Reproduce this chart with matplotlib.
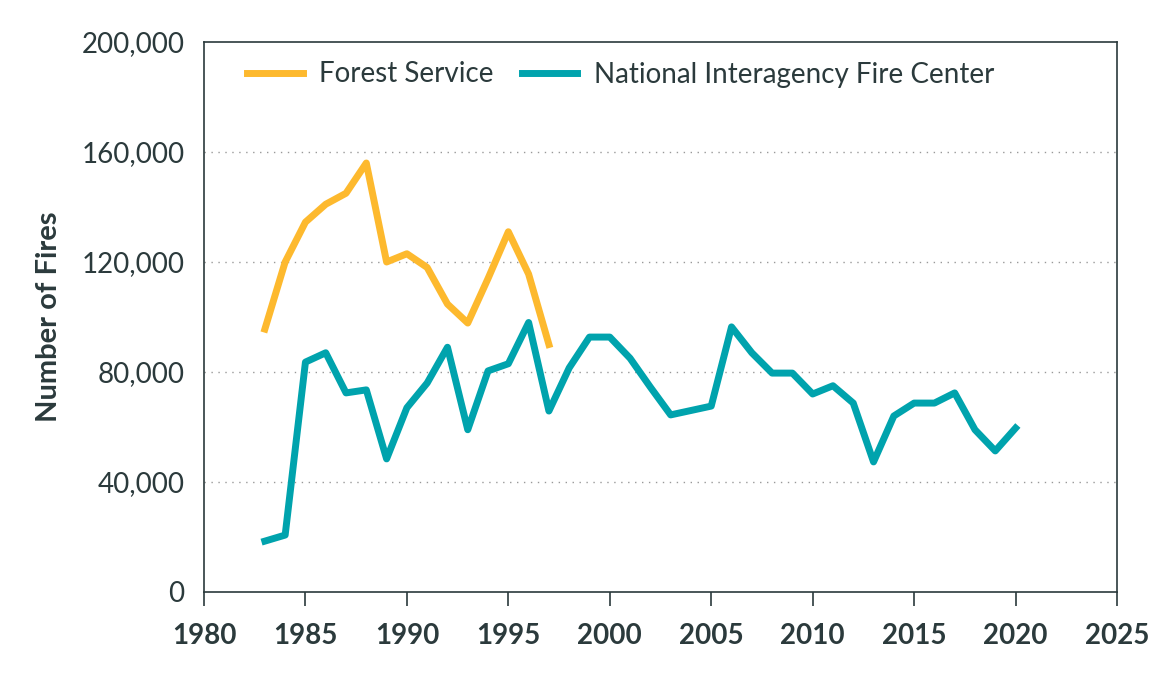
import matplotlib
matplotlib.use("Agg")
import matplotlib.pyplot as plt
from matplotlib.ticker import FuncFormatter

plt.rcParams['font.family'] = ['Lato', 'DejaVu Sans']

fs_years = list(range(1983, 1998))
fs_fires = [95600, 120000, 134500, 141000, 145000, 156000, 120000, 123000,
            118000, 104700, 97800, 114000, 131000, 115600, 90000]

nifc_years = list(range(1983, 2021))
nifc_fires = [18500, 20700, 83600, 87000, 72400, 73500, 48400, 67000, 76000,
              89000, 59000, 80400, 83000, 98000, 65800, 81500, 92700, 92700,
              85000, 74500, 64400, 66000, 67600, 96400, 87000, 79600, 79600,
              72000, 75000, 68700, 47300, 64000, 68700, 68700, 72400, 59000,
              51300, 59600]

dark = '#2b3a3c'
fig = plt.figure(figsize=(11.67, 6.84), dpi=100)
ax = fig.add_axes([204/1167, 1 - 592/684, (1117-204)/1167, (592-42)/684])

ax.plot(fs_years, fs_fires, color='#fdb92e', lw=5, label='Forest Service')
ax.plot(nifc_years, nifc_fires, color='#00a3ad', lw=5,
        label='National Interagency Fire Center')

ax.set_xlim(1980, 2025)
ax.set_ylim(0, 200000)
ax.set_xticks(range(1980, 2026, 5))
ax.set_yticks(range(0, 200001, 40000))
ax.yaxis.set_major_formatter(FuncFormatter(lambda v, p: f'{int(v):,}'))
for y in range(40000, 200000, 40000):
    ax.axhline(y, color='#999999', lw=1, ls=(0, (1, 4)), zorder=0)

for s in ax.spines.values():
    s.set_color(dark)
    s.set_linewidth(1.2)
ax.tick_params(axis='y', labelsize=20, colors=dark, length=0, pad=14)
ax.tick_params(axis='x', labelsize=20, colors=dark, length=10, width=1.2, pad=12)
for t in ax.get_xticklabels():
    t.set_fontweight('bold')
ax.set_ylabel('Number of Fires', fontsize=21, fontweight='bold', color=dark, labelpad=14)

leg = ax.legend(loc='upper left', ncol=2, frameon=False, fontsize=20,
                handlelength=2.0, handletextpad=0.6, columnspacing=1.0,
                bbox_to_anchor=(0.02, 1.01))
for t in leg.get_texts():
    t.set_color(dark)

fig.savefig('out.png', dpi=100)
